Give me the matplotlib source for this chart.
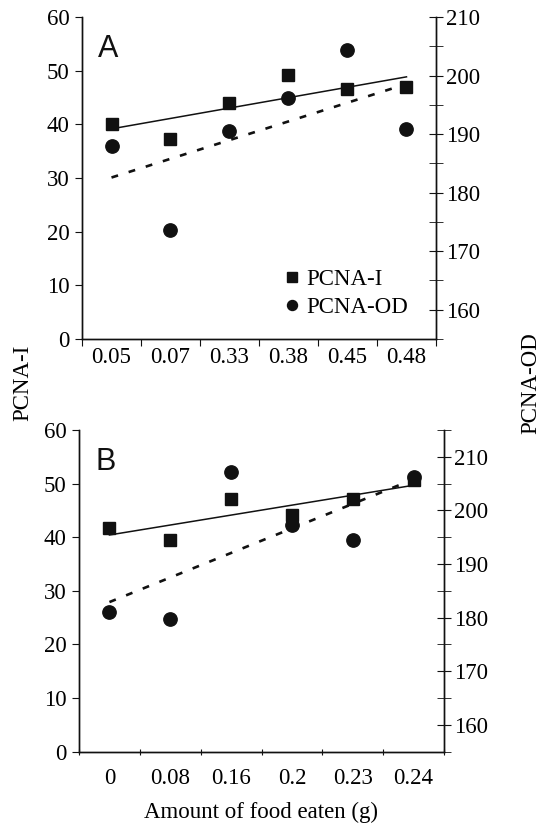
import matplotlib.pyplot as plt
from matplotlib.lines import Line2D
import numpy as np

plt.rcParams['font.family'] = ['Liberation Serif', 'DejaVu Serif']

# panel A
labels_a = ["0.05", "0.07", "0.33", "0.38", "0.45", "0.48"]
pcna_i_a = [40.0, 37.3, 44.0, 49.2, 46.5, 47.0]
pcna_od_a = [188.0, 173.6, 190.5, 196.2, 204.3, 190.8]

# panel B
labels_b = ["0", "0.08", "0.16", "0.2", "0.23", "0.24"]
pcna_i_b = [41.7, 39.5, 47.1, 44.2, 47.1, 50.7]
pcna_od_b = [181.1, 179.8, 207.1, 197.3, 194.5, 206.3]

FS = 16.5
INK = "#111111"


def panel(rect, labels, yi, yod, letter, od_top, xtick_dir):
    ax = fig.add_axes(rect)
    ax2 = ax.twinx()
    x = np.arange(len(labels))

    # linear trend lines
    k1, b1 = np.polyfit(x, yi, 1)
    k2, b2 = np.polyfit(x, yod, 1)
    xx = np.array([x[0], x[-1]])
    ax.plot(xx, k1 * xx + b1, color=INK, lw=1.1)
    ax2.plot(xx, k2 * xx + b2, color=INK, lw=1.9, linestyle=(0, (2.6, 4.2)))

    ax.plot(x, yi, "s", color=INK, ms=8.8, zorder=3)
    ax2.plot(x, yod, "o", color=INK, ms=9.6, zorder=3)

    ax.set_xlim(-0.5, len(labels) - 0.5)
    ax.set_ylim(0, 60)
    ax.set_yticks(range(0, 61, 10))
    ax2.set_ylim(155, od_top)
    ax2.set_yticks(range(160, 211, 10))
    ax2.set_yticks(range(155, od_top + 1, 5), minor=True)

    # ticks at category boundaries, labels at centres
    ax.set_xticks(np.arange(-0.5, len(labels), 1.0))
    ax.set_xticklabels([])
    ax.set_xticks(x, minor=True)
    ax.set_xticklabels(labels, minor=True)
    ax.tick_params(axis="x", which="major", direction=xtick_dir, length=5, color=INK)
    ax.tick_params(axis="x", which="minor", length=0, labelsize=FS, pad=6 if xtick_dir == "out" else 12)
    ax.tick_params(axis="y", direction="out", length=5, labelsize=FS, pad=4, color=INK)
    ax2.tick_params(axis="y", which="both", direction="inout", length=10, labelsize=FS, pad=2, color=INK)
    ax2.tick_params(axis="y", which="minor", labelright=False)

    for a in (ax, ax2):
        a.spines["top"].set_visible(False)
        for s in ("left", "right", "bottom"):
            a.spines[s].set_color(INK)
            a.spines[s].set_linewidth(1.0)

    ax.text(0.045, 0.947, letter, transform=ax.transAxes, fontsize=22,
            family="Liberation Sans", va="top", ha="left", color=INK)
    return ax, ax2


fig = plt.figure(figsize=(5.42, 8.24), dpi=100)

ax_a, ax2_a = panel([0.1513, 0.5886, 0.6531, 0.3908], labels_a, pcna_i_a, pcna_od_a, "A", 210, "out")
ax_b, ax2_b = panel([0.1458, 0.0878, 0.6734, 0.3904], labels_b, pcna_i_b, pcna_od_b, "B", 215, "inout")

handles = [
    Line2D([], [], marker="s", ls="none", color=INK, ms=6.6),
    Line2D([], [], marker="o", ls="none", color=INK, ms=7.2),
]
ax2_a.legend(handles, ["PCNA-I", "PCNA-OD"], loc="upper left", bbox_to_anchor=(0.575, 0.218),
             frameon=False, fontsize=FS, handlelength=0.6, handletextpad=0.3,
             labelspacing=0.33, borderpad=0, borderaxespad=0)

fig.text(23 / 542, 1 - 383 / 824, "PCNA-I", rotation=90, ha="center", va="center", fontsize=FS)
fig.text(531 / 542, 1 - 383 / 824, "PCNA-OD", rotation=90, ha="center", va="center", fontsize=FS)
fig.text(261 / 542, 1 - 812 / 824, "Amount of food eaten (g)", ha="center", va="center", fontsize=FS)

fig.savefig("out.png", dpi=100)
